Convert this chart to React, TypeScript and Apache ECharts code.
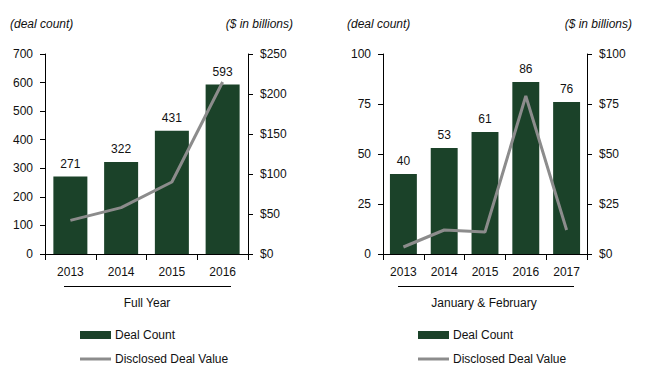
import React, { useEffect, useRef } from "react";
import * as echarts from "echarts";

const yearsFull = ["2013", "2014", "2015", "2016"];
const dealCountFull = [271, 322, 431, 593];
const dealValueFull = [42, 58, 90, 215];

const yearsJanFeb = ["2013", "2014", "2015", "2016", "2017"];
const dealCountJanFeb = [40, 53, 61, 86, 76];
const dealValueJanFeb = [3.5, 12, 11, 79, 12];

const BAR_COLOR = "#1B4229";
const LINE_COLOR = "#8C8C8C";
const FONT = "'Liberation Sans', Arial, sans-serif";
const TXT = "#111";

export default function App() {
  const ref = useRef<HTMLDivElement>(null);
  useEffect(() => {
    if (!ref.current) return;
    const chart = echarts.init(ref.current, undefined, { renderer: "svg" });
    const axisLine = { show: true, lineStyle: { color: "#000", width: 1 } };
    const baseLabel = { color: TXT, fontSize: 12, fontFamily: FONT };
    const xAxisCommon = (data: string[], gridIndex: number) => ({
      type: "category",
      gridIndex,
      data,
      boundaryGap: true,
      axisLine,
      axisTick: { show: true, length: 6, alignWithLabel: false, lineStyle: { color: "#000" } },
      axisLabel: { ...baseLabel, margin: 12 },
      splitLine: { show: false },
    });
    const yAxisCommon = (gridIndex: number, position: string, max: number, interval: number, fmt?: (v: number) => string) => ({
      type: "value",
      gridIndex,
      position,
      min: 0,
      max,
      interval,
      axisLine,
      axisTick: { show: true, length: 5, inside: false, lineStyle: { color: "#000" } },
      axisLabel: { ...baseLabel, margin: 12, formatter: fmt },
      splitLine: { show: false },
    });
    const dollar = (v: number) => "$" + v;
    const legendCommon = {
      orient: "vertical",
      padding: 0,
      itemWidth: 31,
      itemHeight: 8,
      itemGap: 12,
      textStyle: { ...baseLabel, padding: [0, 0, 0, -1] },
      selectedMode: false,
      data: [
        { name: "Deal Count", icon: "rect" },
        { name: "Disclosed Deal Value", icon: "path://M0,0H31V3H0Z" },
      ],
    };
    const barLabel = { show: true, position: "top", distance: 7, ...baseLabel };
    chart.setOption({
      animation: false,
      grid: [
        { left: 45, top: 54, width: 203, height: 200, containLabel: false },
        { left: 383, top: 54, width: 204, height: 200, containLabel: false },
      ],
      xAxis: [xAxisCommon(yearsFull, 0), xAxisCommon(yearsJanFeb, 1)],
      yAxis: [
        yAxisCommon(0, "left", 700, 100),
        yAxisCommon(0, "right", 250, 50, dollar),
        yAxisCommon(1, "left", 100, 25),
        yAxisCommon(1, "right", 100, 25, dollar),
      ],
      legend: [
        { ...legendCommon, left: 80, top: 329 },
        { ...legendCommon, left: 418, top: 329 },
      ],
      series: [
        {
          name: "Deal Count",
          type: "bar",
          xAxisIndex: 0,
          yAxisIndex: 0,
          data: dealCountFull,
          barWidth: "67%",
          itemStyle: { color: BAR_COLOR },
          label: barLabel,
        },
        {
          name: "Disclosed Deal Value",
          type: "line",
          xAxisIndex: 0,
          yAxisIndex: 1,
          data: dealValueFull,
          symbol: "none",
          showSymbol: false,
          lineStyle: { color: LINE_COLOR, width: 3 },
          itemStyle: { color: LINE_COLOR },
        },
        {
          name: "Deal Count",
          type: "bar",
          xAxisIndex: 1,
          yAxisIndex: 2,
          data: dealCountJanFeb,
          barWidth: "66%",
          itemStyle: { color: BAR_COLOR },
          label: barLabel,
        },
        {
          name: "Disclosed Deal Value",
          type: "line",
          xAxisIndex: 1,
          yAxisIndex: 3,
          data: dealValueJanFeb,
          symbol: "none",
          showSymbol: false,
          lineStyle: { color: LINE_COLOR, width: 3 },
          itemStyle: { color: LINE_COLOR },
        },
      ],
      graphic: [
        { type: "text", left: 10, top: 18, style: { text: "(deal count)", font: `italic 12px ${FONT}`, fill: TXT } },
        { type: "text", right: 367, top: 18, style: { text: "($ in billions)", font: `italic 12px ${FONT}`, fill: TXT } },
        { type: "text", left: 347, top: 18, style: { text: "(deal count)", font: `italic 12px ${FONT}`, fill: TXT } },
        { type: "text", right: 28, top: 18, style: { text: "($ in billions)", font: `italic 12px ${FONT}`, fill: TXT } },
        { type: "line", shape: { x1: 64, y1: 286.5, x2: 231, y2: 286.5 }, style: { stroke: "#000", lineWidth: 1 } },
        { type: "line", shape: { x1: 398, y1: 286.5, x2: 574, y2: 286.5 }, style: { stroke: "#000", lineWidth: 1 } },
        { type: "text", x: 147, y: 303, style: { text: "Full Year", font: `12px ${FONT}`, fill: TXT, align: "center", verticalAlign: "middle" } },
        { type: "text", x: 484, y: 303, style: { text: "January & February", font: `12px ${FONT}`, fill: TXT, align: "center", verticalAlign: "middle" } },
      ],
    });
    return () => chart.dispose();
  }, []);
  return (
    <div
      ref={ref}
      style={{ position: "fixed", left: 0, top: 0, width: 660, height: 379, background: "#fff" }}
    />
  );
}
